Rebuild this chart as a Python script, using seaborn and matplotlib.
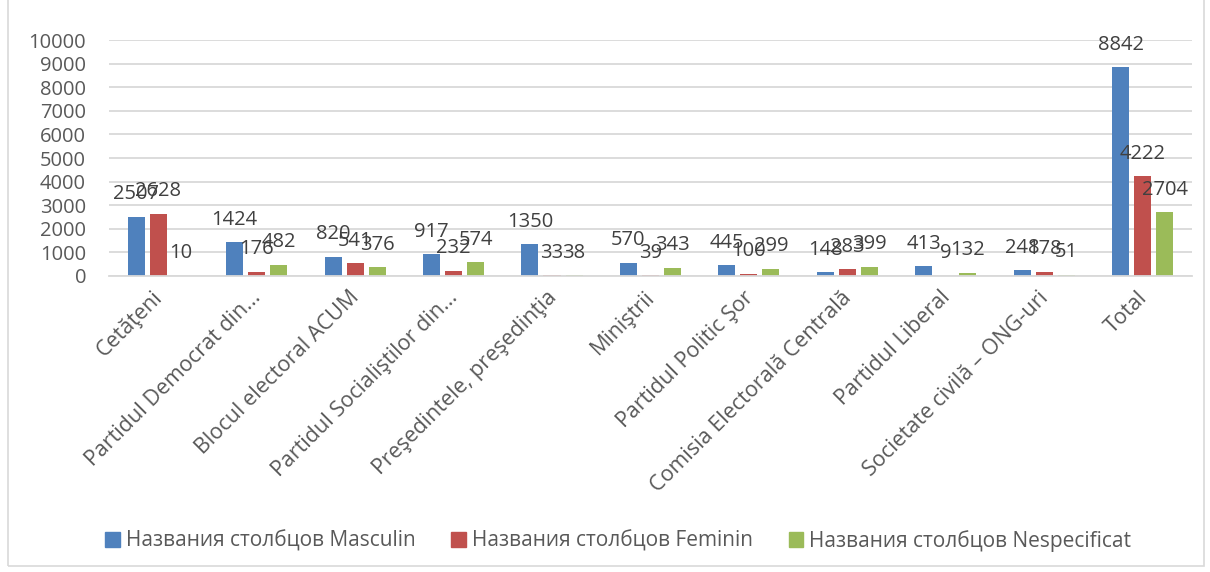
import matplotlib
matplotlib.use("Agg")
import matplotlib.pyplot as plt
import matplotlib.patches as mpatches
import matplotlib.transforms as mtransforms
import seaborn as sns
import pandas as pd

categories = ["Cetăţeni", "Partidul Democrat din...", "Blocul electoral ACUM",
              "Partidul Socialiştilor din...", "Preşedintele, preşedinţia", "Miniştrii",
              "Partidul Politic Şor", "Comisia Electorală Centrală", "Partidul Liberal",
              "Societate civilă – ONG-uri", "Total"]
masculin = [2507, 1424, 820, 917, 1350, 570, 445, 148, 413, 248, 8842]
feminin = [2628, 176, 541, 232, 33, 39, 100, 283, 9, 178, 4222]
nespecificat = [10, 482, 376, 574, 38, 343, 299, 399, 132, 51, 2704]
series_names = ["Названия столбцов Masculin", "Названия столбцов Feminin",
                "Названия столбцов Nespecificat"]
colors = ["#4F81BD", "#C0504D", "#9BBB59"]
yticks = [0, 1000, 2000, 3000, 4000, 5000, 6000, 7000, 8000, 9000, 10000]

rows = []
for name, vals in zip(series_names, [masculin, feminin, nespecificat]):
    for c, v in zip(categories, vals):
        rows.append({"cat": c, "series": name, "value": v})
df = pd.DataFrame(rows)

sns.set_style("white")
plt.rcParams["font.family"] = ["Open Sans", "DejaVu Sans"]

fig = plt.figure(figsize=(12.1, 5.72), dpi=100)
ax = fig.add_axes([0.0901, 0.5175, 0.8949, 0.4125])

sns.barplot(data=df, x="cat", y="value", hue="series", order=categories,
            hue_order=series_names, palette=colors, width=0.671, gap=0.227,
            saturation=1, ax=ax, legend=False, edgecolor="none")

ax.set_xlim(-0.5, len(categories) - 0.5)
ax.set_ylim(0, 10000)
ax.set_yticks(yticks)
ax.set_yticklabels([str(t) for t in yticks], fontsize=14.5, color="#595959")
ax.yaxis.grid(True, color="#D9D9D9", linewidth=1.3)
ax.set_axisbelow(True)
for s in ["top", "right", "left"]:
    ax.spines[s].set_visible(False)
ax.spines["bottom"].set_color("#D9D9D9")
ax.spines["bottom"].set_linewidth(1.3)
ax.tick_params(axis="both", length=0)
ax.tick_params(axis="y", pad=16.5)
ax.set_xlabel("")
ax.set_ylabel("")
ax.set_xticks(range(len(categories)))
ax.set_xticklabels(categories, rotation=45, ha="right", rotation_mode="anchor",
                   fontsize=15.5, color="#595959")
ax.tick_params(axis="x", pad=8)
shift = mtransforms.ScaledTranslation(-6 / 100, 0, fig.dpi_scale_trans)
for lbl in ax.get_xticklabels():
    lbl.set_transform(lbl.get_transform() + shift)

for cont in ax.containers:
    ax.bar_label(cont, fmt="%d", padding=9, fontsize=14.5, color="#404040")

handles = [mpatches.Patch(color=c, label=n) for c, n in zip(colors, series_names)]
fig.legend(handles=handles, loc="center", bbox_to_anchor=(0.511, 1 - 541 / 572),
           ncol=3, frameon=False, fontsize=15, labelcolor="#595959",
           handlelength=0.7, handleheight=0.7, handletextpad=0.3, columnspacing=1.7)

border = mpatches.Rectangle((8 / 1210, 6 / 572), 1196 / 1210, 0.995, transform=fig.transFigure,
                            fill=False, edgecolor="#D9D9D9", linewidth=1.2)
fig.patches.append(border)

fig.savefig("out.png", dpi=100)
